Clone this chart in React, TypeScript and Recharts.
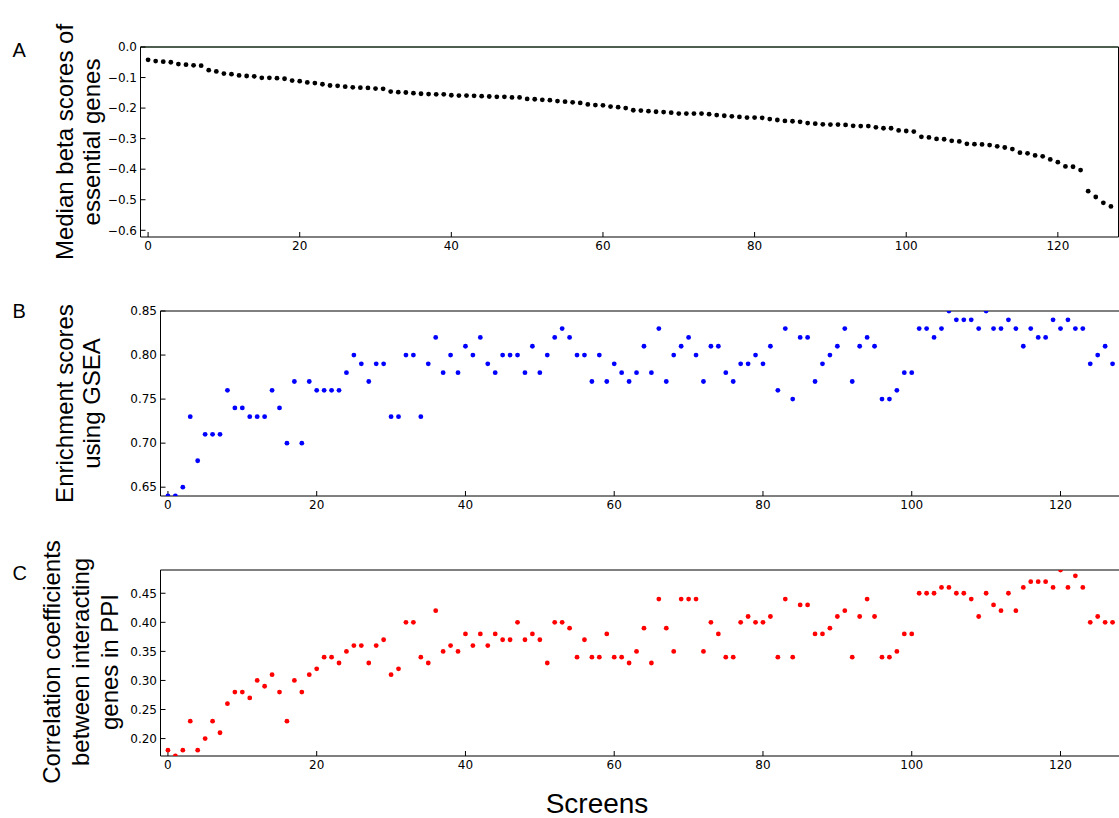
import React from "react"
import { ScatterChart, Scatter, XAxis, YAxis, ReferenceLine } from "recharts"

// screens 0..127
const betaScores = [
  -0.042, -0.046, -0.048, -0.05, -0.056, -0.058, -0.06, -0.061,
  -0.076, -0.08, -0.087, -0.089, -0.093, -0.095, -0.096, -0.101, -0.101, -0.102, -0.104, -0.11,
  -0.112, -0.116, -0.118, -0.122, -0.126, -0.127, -0.13, -0.132, -0.133, -0.134,
  -0.136, -0.137, -0.146, -0.148, -0.149, -0.151, -0.153, -0.154,
  -0.155, -0.155, -0.158, -0.159, -0.159, -0.16, -0.161, -0.162, -0.163, -0.163, -0.165, -0.165,
  -0.17, -0.171, -0.173, -0.174, -0.177, -0.179, -0.181, -0.183, -0.188, -0.19, -0.191, -0.195, -0.197, -0.2,
  -0.207, -0.208, -0.21, -0.212, -0.213, -0.215, -0.218, -0.218, -0.218, -0.218, -0.22, -0.223, -0.225, -0.227, -0.229, -0.231, -0.231, -0.232, -0.236,
  -0.239, -0.242, -0.243, -0.245, -0.249, -0.251, -0.253, -0.254, -0.254, -0.255, -0.258, -0.259, -0.259, -0.263, -0.266, -0.266, -0.273, -0.275, -0.277,
  -0.294, -0.296, -0.301, -0.302, -0.307, -0.309, -0.317, -0.318, -0.319, -0.321, -0.325, -0.329, -0.334, -0.346, -0.348, -0.355, -0.358, -0.368, -0.377, -0.391, -0.392, -0.403,
  -0.472, -0.491, -0.51, -0.522,
]

const gseaScores = [
  0.64, 0.64, 0.65, 0.73, 0.68, 0.71, 0.71, 0.71, 0.76, 0.74,
  0.74, 0.73, 0.73, 0.73, 0.76, 0.74, 0.7, 0.77, 0.7, 0.77,
  0.76, 0.76, 0.76, 0.76, 0.78, 0.8, 0.79, 0.77, 0.79, 0.79,
  0.73, 0.73, 0.8, 0.8, 0.73, 0.79, 0.82, 0.78, 0.8, 0.78,
  0.81, 0.8, 0.82, 0.79, 0.78, 0.8, 0.8, 0.8, 0.78, 0.81,
  0.78, 0.8, 0.82, 0.83, 0.82, 0.8, 0.8, 0.77, 0.8, 0.77,
  0.79, 0.78, 0.77, 0.78, 0.81, 0.78, 0.83, 0.77, 0.8, 0.81,
  0.82, 0.8, 0.77, 0.81, 0.81, 0.78, 0.77, 0.79, 0.79, 0.8,
  0.79, 0.81, 0.76, 0.83, 0.75, 0.82, 0.82, 0.77, 0.79, 0.8,
  0.81, 0.83, 0.77, 0.81, 0.82, 0.81, 0.75, 0.75, 0.76, 0.78,
  0.78, 0.83, 0.83, 0.82, 0.83, 0.85, 0.84, 0.84, 0.84, 0.83,
  0.85, 0.83, 0.83, 0.84, 0.83, 0.81, 0.83, 0.82, 0.82, 0.84,
  0.83, 0.84, 0.83, 0.83, 0.79, 0.8, 0.81, 0.79,
]

const ppiCorrelations = [
  0.18, 0.17, 0.18, 0.23, 0.18, 0.2, 0.23, 0.21, 0.26, 0.28,
  0.28, 0.27, 0.3, 0.29, 0.31, 0.28, 0.23, 0.3, 0.28, 0.31,
  0.32, 0.34, 0.34, 0.33, 0.35, 0.36, 0.36, 0.33, 0.36, 0.37,
  0.31, 0.32, 0.4, 0.4, 0.34, 0.33, 0.42, 0.35, 0.36, 0.35,
  0.38, 0.36, 0.38, 0.36, 0.38, 0.37, 0.37, 0.4, 0.37, 0.38,
  0.37, 0.33, 0.4, 0.4, 0.39, 0.34, 0.37, 0.34, 0.34, 0.38,
  0.34, 0.34, 0.33, 0.35, 0.39, 0.33, 0.44, 0.39, 0.35, 0.44,
  0.44, 0.44, 0.35, 0.4, 0.38, 0.34, 0.34, 0.4, 0.41, 0.4,
  0.4, 0.41, 0.34, 0.44, 0.34, 0.43, 0.43, 0.38, 0.38, 0.39,
  0.41, 0.42, 0.34, 0.41, 0.44, 0.41, 0.34, 0.34, 0.35, 0.38,
  0.38, 0.45, 0.45, 0.45, 0.46, 0.46, 0.45, 0.45, 0.44, 0.41,
  0.45, 0.43, 0.42, 0.45, 0.42, 0.46, 0.47, 0.47, 0.47, 0.46,
  0.49, 0.46, 0.48, 0.46, 0.4, 0.41, 0.4, 0.4,
]

const xTicks = [0, 20, 40, 60, 80, 100, 120]
const betaTicks = [0, -0.1, -0.2, -0.3, -0.4, -0.5, -0.6]
const gseaTicks = [0.65, 0.7, 0.75, 0.8, 0.85]
const ppiTicks = [0.2, 0.25, 0.3, 0.35, 0.4, 0.45]

const tickFont = { fontSize: 12, fill: "#000", fontFamily: "DejaVu Sans" }
const labelFont = "'Liberation Sans', Arial, sans-serif"

const minus = (s: string) => s.replace("-", "\u2212")

function Panel({ top, left, right, plotH, values, domain, yTicks, fmt, color, zeroLine }: any) {
  const data = values.map((v: number, i: number) => ({ screen: i, value: v }))
  const mTop = 10
  const xH = 30
  const yW = 60
  return (
    <div style={{ position: "absolute", left: 0, top: top - mTop }}>
      <ScatterChart
        width={right + 10}
        height={mTop + plotH + xH}
        margin={{ top: mTop - 1, right: 9, bottom: 0, left: left - yW }}
      >
        <XAxis xAxisId="b" dataKey="screen" type="number" domain={[-1, 128]} ticks={xTicks} interval={0}
          allowDataOverflow height={xH} tickSize={-5} tickMargin={9} stroke="#000" tick={tickFont} />
        <XAxis xAxisId="t" orientation="top" type="number" domain={[-1, 128]} ticks={xTicks} interval={0}
          allowDataOverflow height={1} tickSize={-5} tick={false} stroke="#000" />
        <YAxis yAxisId="l" dataKey="value" type="number" domain={domain} ticks={yTicks} interval={0}
          allowDataOverflow width={yW} tickSize={-5} tickMargin={8.5} stroke="#000" tick={tickFont}
          tickFormatter={fmt} />
        <YAxis yAxisId="r" orientation="right" type="number" domain={domain} ticks={yTicks} interval={0}
          allowDataOverflow width={1} tickSize={-5} tick={false} stroke="#000" />
        {zeroLine && <ReferenceLine xAxisId="b" yAxisId="l" y={0} stroke="#3d7a3d" strokeWidth={1} />}
        <Scatter
          xAxisId="b"
          yAxisId="l"
          data={data}
          isAnimationActive={false}
          shape={(p: any) => <circle cx={p.cx} cy={p.cy} r={2.4} fill={color} />}
        />
      </ScatterChart>
    </div>
  )
}

function YLabel({ lines, xs, cy }: { lines: string[]; xs: number[]; cy: number }) {
  return (
    <>
      {lines.map((t, i) => (
        <text key={i} transform={`translate(${xs[i]},${cy}) rotate(-90)`} textAnchor="middle"
          fontSize={24} fontFamily={labelFont} fill="#000">
          {t}
        </text>
      ))}
    </>
  )
}

export default function App() {
  return (
    <div style={{ position: "absolute", left: 0, top: 0, width: 1119, height: 818, overflow: "hidden", background: "#fff" }}>
      <Panel top={46.5} left={140.5} right={1118.5} plotH={190} values={betaScores} domain={[-0.622, 0]}
        yTicks={betaTicks} fmt={(v: number) => minus(v.toFixed(1))} color="#000" zeroLine />
      <Panel top={310.5} left={160.5} right={1120} plotH={185} values={gseaScores} domain={[0.64, 0.85]}
        yTicks={gseaTicks} fmt={(v: number) => v.toFixed(2)} color="#0000ff" />
      <Panel top={569.5} left={160.5} right={1120} plotH={186} values={ppiCorrelations} domain={[0.17, 0.49]}
        yTicks={ppiTicks} fmt={(v: number) => v.toFixed(2)} color="#ff0000" />
      <svg width={1119} height={818} style={{ position: "absolute", left: 0, top: 0, pointerEvents: "none" }}>
        <text x={12.5} y={57} fontSize={20} fontFamily={labelFont}>A</text>
        <text x={12.5} y={318} fontSize={20} fontFamily={labelFont}>B</text>
        <text x={12.5} y={580} fontSize={20} fontFamily={labelFont}>C</text>
        <YLabel lines={["Median beta scores of", "essential genes"]} xs={[73, 100]} cy={142} />
        <YLabel lines={["Enrichment scores", "using GSEA"]} xs={[73, 100]} cy={403.5} />
        <YLabel lines={["Correlation coefficients", "between interacting", "genes in PPI"]} xs={[60, 89, 117.5]} cy={662} />
        <text x={597} y={813} fontSize={28} textAnchor="middle" fontFamily={labelFont}>Screens</text>
      </svg>
    </div>
  )
}
